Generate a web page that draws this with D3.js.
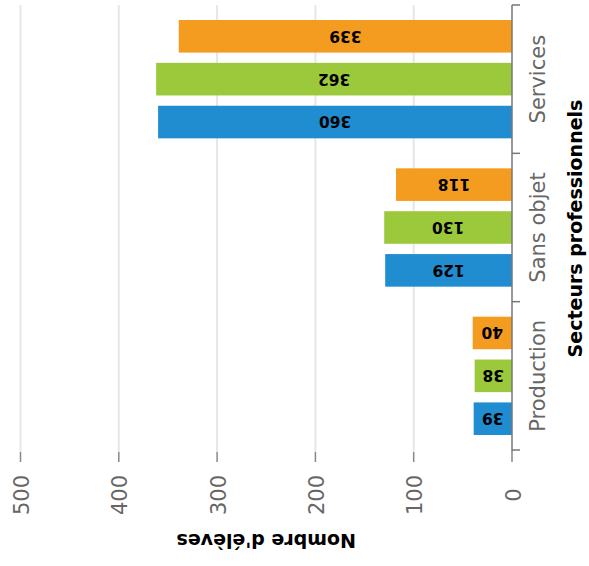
<!DOCTYPE html>
<html>
<head>
<meta charset="utf-8">
<script src="https://cdn.jsdelivr.net/npm/d3@7"></script>
<style>
  body { margin: 0; background: #fff; }
  text { font-family: "DejaVu Sans", Verdana, sans-serif; }
</style>
</head>
<body>
<div id="chart"></div>
<script>
var categories = ["Production", "Sans objet", "Services"];
var seriesNames = ["Série 1", "Série 2", "Série 3"];
var seriesColors = ["#1f8dd0", "#9bc93b", "#f39c1f"];
var serie1 = [39, 129, 360];
var serie2 = [38, 130, 362];
var serie3 = [40, 118, 339];
var tickValues = [0, 100, 200, 300, 400, 500];
var valueTitle = "Nombre d'élèves";
var categoryTitle = "Secteurs professionnels";

var width = 589,
    height = 566;

var svg = d3.select("#chart")
  .append("svg")
  .attr("width", width)
  .attr("height", height);

var allSeries = [serie1, serie2, serie3];

// value axis runs right to left (0 on the right)
var x = d3.scaleLinear().domain([0, 500]).range([512, 20.5]);
// categories from bottom to top
var y0 = d3.scaleBand().domain(categories).range([450, 5]);
var y1 = d3.scaleBand().domain([0, 1, 2])
  .range([y0.bandwidth() - 15, 15])
  .paddingInner(0.24);

var plotTop = 5, plotBottom = 452;

// grid lines
svg.append("g").selectAll("line")
  .data(tickValues.filter(function(d) { return d > 0; }))
  .enter().append("line")
  .attr("x1", function(d) { return x(d); })
  .attr("x2", function(d) { return x(d); })
  .attr("y1", plotTop)
  .attr("y2", plotBottom)
  .attr("stroke", "#e6e6e6")
  .attr("stroke-width", 2);

// value ticks + labels
var vt = svg.append("g").selectAll("g")
  .data(tickValues)
  .enter().append("g");

vt.append("line")
  .attr("x1", function(d) { return x(d); })
  .attr("x2", function(d) { return x(d); })
  .attr("y1", plotBottom)
  .attr("y2", plotBottom + 10)
  .attr("stroke", "#888")
  .attr("stroke-width", 1.5);

vt.append("text")
  .attr("transform", function(d) { return "translate(" + (x(d) + 1) + ",495) rotate(-90)"; })
  .attr("text-anchor", "middle")
  .attr("dy", "0.36em")
  .attr("fill", "#666")
  .attr("font-size", 21)
  .text(function(d) { return d; });

// bars
var groups = svg.append("g").selectAll("g")
  .data(categories)
  .enter().append("g")
  .attr("transform", function(d) { return "translate(0," + y0(d) + ")"; });

var bars = groups.selectAll("g")
  .data(function(d, i) {
    return allSeries.map(function(s, j) { return { s: j, value: s[i] }; });
  })
  .enter().append("g");

bars.append("rect")
  .attr("x", function(d) { return x(d.value); })
  .attr("y", function(d) { return y1(d.s); })
  .attr("width", function(d) { return x(0) - x(d.value); })
  .attr("height", y1.bandwidth())
  .attr("fill", function(d) { return seriesColors[d.s]; });

bars.append("text")
  .attr("transform", function(d) {
    return "translate(" + ((x(0) + x(d.value)) / 2) + "," + (y1(d.s) + y1.bandwidth() / 2) + ") rotate(180)";
  })
  .attr("text-anchor", "middle")
  .attr("dy", "0.36em")
  .attr("font-size", 15.5)
  .attr("font-weight", "bold")
  .attr("fill", "#000")
  .text(function(d) { return d.value; });

// category axis on the right
var ax = svg.append("g");
ax.append("line")
  .attr("x1", x(0)).attr("x2", x(0))
  .attr("y1", plotTop).attr("y2", plotBottom)
  .attr("stroke", "#777")
  .attr("stroke-width", 1.5);

var bounds = categories.map(function(c) { return y0(c); }).concat([y0.range()[0]]);
ax.selectAll(".btick")
  .data(bounds)
  .enter().append("line")
  .attr("class", "btick")
  .attr("x1", x(0)).attr("x2", x(0) + 8)
  .attr("y1", function(d) { return d; })
  .attr("y2", function(d) { return d; })
  .attr("stroke", "#777")
  .attr("stroke-width", 1.5);

ax.selectAll(".clabel")
  .data(categories)
  .enter().append("text")
  .attr("class", "clabel")
  .attr("transform", function(d) { return "translate(537," + (y0(d) + y0.bandwidth() / 2) + ") rotate(-90)"; })
  .attr("text-anchor", "middle")
  .attr("dy", "0.36em")
  .attr("fill", "#666")
  .attr("font-size", 21)
  .text(function(d) { return d; });

// titles
svg.append("text")
  .attr("transform", "translate(575," + ((plotTop + plotBottom) / 2) + ") rotate(-90)")
  .attr("text-anchor", "middle")
  .attr("dy", "0.36em")
  .attr("font-size", 19)
  .attr("font-weight", "bold")
  .attr("fill", "#000")
  .text(categoryTitle);

svg.append("text")
  .attr("transform", "translate(" + ((x(0) + x(500)) / 2) + ",541) rotate(180)")
  .attr("text-anchor", "middle")
  .attr("dy", "0.36em")
  .attr("font-size", 19)
  .attr("font-weight", "bold")
  .attr("fill", "#000")
  .text(valueTitle);
</script>
</body>
</html>
